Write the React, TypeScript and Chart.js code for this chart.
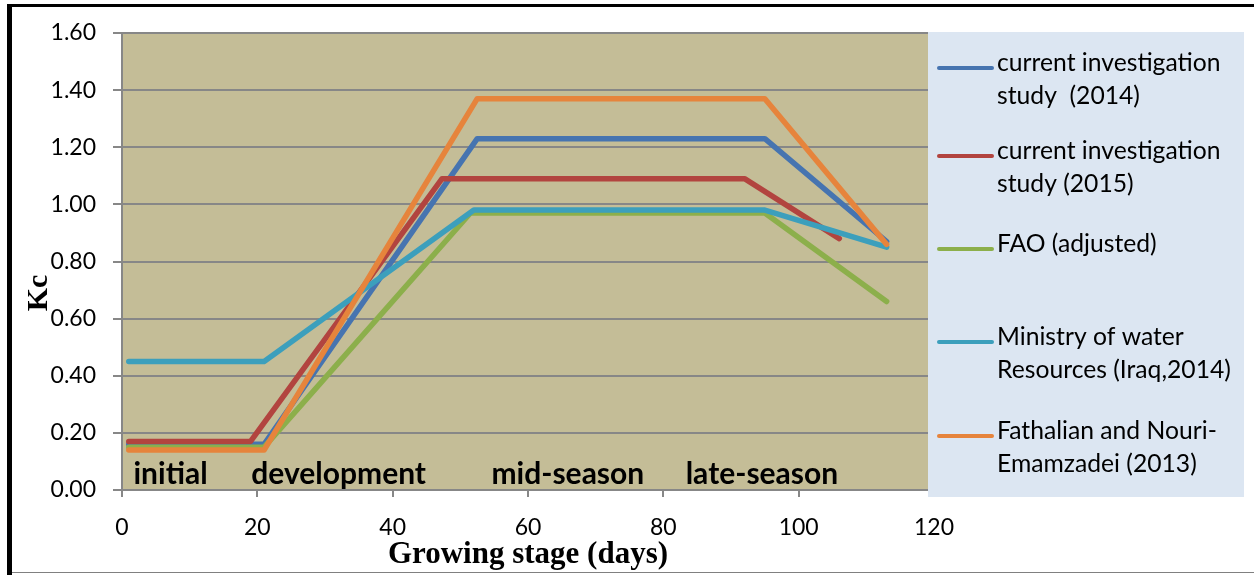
import React, { useEffect, useRef } from "react";
import { Chart, registerables } from "chart.js";
Chart.register(...registerables);

// ---- data ----
const seriesLabels = [
  "current investigation study (2014)",
  "current investigation study (2015)",
  "FAO (adjusted)",
  "Ministry of water Resources (Iraq,2014)",
  "Fathalian and Nouri-Emamzadei (2013)",
];
const legendLines = [
  ["current investigation", "study  (2014)"],
  ["current investigation", "study (2015)"],
  ["FAO (adjusted)"],
  ["Ministry of water", "Resources (Iraq,2014)"],
  ["Fathalian and Nouri-", "Emamzadei (2013)"],
];
const daysStudy2014 = [1, 21, 52.5, 95, 113];
const kcStudy2014 = [0.16, 0.16, 1.23, 1.23, 0.87];
const daysStudy2015 = [1, 19, 47.3, 92, 106];
const kcStudy2015 = [0.17, 0.17, 1.09, 1.09, 0.88];
const daysFAO = [1, 21, 51.5, 95, 113];
const kcFAO = [0.15, 0.15, 0.97, 0.97, 0.66];
const daysMinistry = [1, 21, 52, 95, 113];
const kcMinistry = [0.45, 0.45, 0.98, 0.98, 0.85];
const daysFathalian = [1, 21, 52.5, 95, 113];
const kcFathalian = [0.14, 0.14, 1.37, 1.37, 0.86];

const stageLabels = ["initial", "development", "mid-season", "late-season"];
const stageDays = [1.7, 19.1, 54.6, 83.3];

const xTicks = [0, 20, 40, 60, 80, 100, 120];
const yTicks = [0, 0.2, 0.4, 0.6, 0.8, 1.0, 1.2, 1.4, 1.6];

const colors = ["#4674b0", "#b2443f", "#8caf4b", "#3c9fbc", "#e6843c"];

const xTitle = "Growing stage (days)";
const yTitle = "Kc";

export default function App() {
  const ref = useRef<HTMLCanvasElement | null>(null);

  useEffect(() => {
    document.body.style.margin = "0";
    const canvas = ref.current!;
    const allDays = [daysStudy2014, daysStudy2015, daysFAO, daysMinistry, daysFathalian];
    const allKc = [kcStudy2014, kcStudy2015, kcFAO, kcMinistry, kcFathalian];
    const orders = [5, 4, 3, 2, 1];

    const datasets = seriesLabels.map((label, i) => ({
      label,
      data: allDays[i].map((d, j) => ({ x: d, y: allKc[i][j] })),
      borderColor: colors[i],
      backgroundColor: colors[i],
      borderWidth: 5.5,
      borderJoinStyle: "round" as const,
      borderCapStyle: "round" as const,
      pointRadius: 0,
      tension: 0,
      fill: false,
      order: orders[i],
    }));

    const bgPlugin = {
      id: "bg",
      beforeDraw(chart: any) {
        const { ctx, chartArea } = chart;
        ctx.save();
        ctx.fillStyle = "#ffffff";
        ctx.fillRect(0, 0, chart.width, chart.height);
        ctx.fillStyle = "#c4bd97";
        ctx.fillRect(chartArea.left, chartArea.top, chartArea.right - chartArea.left, chartArea.bottom - chartArea.top);
        ctx.restore();
      },
    };

    const overlayPlugin = {
      id: "overlay",
      afterDraw(chart: any) {
        const { ctx, chartArea } = chart;
        const xs = chart.scales.x;
        ctx.save();
        // stage labels
        ctx.fillStyle = "#000";
        ctx.font = "bold 30px Lato";
        ctx.textBaseline = "alphabetic";
        ctx.textAlign = "left";
        stageLabels.forEach((s, i) => {
          ctx.fillText(s, xs.getPixelForValue(stageDays[i]), chartArea.bottom - 6);
        });
        // legend box
        const lx = 928, ly = 32, lw = 316, lh = 465;
        ctx.fillStyle = "#dce6f2";
        ctx.fillRect(lx, ly, lw, lh);
        const itemY = [68, 156, 249, 342, 436];
        ctx.font = "24.7px Lato";
        ctx.textBaseline = "middle";
        legendLines.forEach((lines, i) => {
          const y = itemY[i];
          ctx.strokeStyle = colors[i];
          ctx.lineWidth = 4;
          ctx.lineCap = "round";
          ctx.beginPath();
          ctx.moveTo(lx + 11, y);
          ctx.lineTo(lx + 64, y);
          ctx.stroke();
          ctx.fillStyle = "#000";
          lines.forEach((t, k) => {
            ctx.fillText(t, lx + 69, y - 5 + k * 33);
          });
        });
        // axis titles
        ctx.font = "bold 31px 'Liberation Serif'";
        ctx.textAlign = "center";
        ctx.textBaseline = "alphabetic";
        ctx.fillText(xTitle, 528, 563);
        ctx.save();
        ctx.translate(47, 293);
        ctx.rotate(-Math.PI / 2);
        ctx.font = "bold 30px 'Liberation Serif'";
        ctx.fillText(yTitle, 0, 0);
        ctx.restore();
        // outer frame
        ctx.fillStyle = "#000";
        ctx.fillRect(7, 4, chart.width - 7, 3);
        ctx.fillRect(7, 4, 5, chart.height - 4);
        ctx.fillStyle = "#808080";
        ctx.fillRect(12, 572, chart.width - 12, 1);
        ctx.restore();
      },
    };

    const chart = new Chart(canvas, {
      type: "line",
      data: { datasets },
      options: {
        animation: false,
        responsive: false,
        maintainAspectRatio: false,
        layout: { padding: { top: 33, right: 320, bottom: 0, left: 0 } },
        plugins: { legend: { display: false }, tooltip: { enabled: false }, title: { display: false } },
        scales: {
          x: {
            type: "linear",
            min: 0,
            max: 120,
            afterFit(scale: any) {
              scale.height = 85;
            },
            afterBuildTicks(scale: any) {
              scale.ticks = xTicks.map((v) => ({ value: v }));
            },
            ticks: {
              font: { family: "Lato", size: 23 },
              color: "#000",
              padding: 17,
              maxRotation: 0,
              callback: (v: any) => String(v),
            },
            grid: { drawOnChartArea: false, drawTicks: true, tickLength: 7, color: "#878787", lineWidth: 2 },
            border: { display: true, color: "#878787", width: 2 },
          },
          y: {
            type: "linear",
            min: 0,
            max: 1.6,
            afterFit(scale: any) {
              scale.width = 122;
            },
            afterBuildTicks(scale: any) {
              scale.ticks = yTicks.map((v) => ({ value: v }));
            },
            ticks: {
              font: { family: "Lato", size: 23 },
              color: "#000",
              padding: 17,
              callback: (v: any) => Number(v).toFixed(2),
            },
            grid: { drawTicks: true, tickLength: 9, color: "#878787", lineWidth: 2 },
            border: { display: true, color: "#878787", width: 2 },
          },
        },
      },
      plugins: [bgPlugin, overlayPlugin],
    } as any);

    return () => chart.destroy();
  }, []);

  return (
    <div style={{ width: 1254, height: 575 }}>
      <canvas ref={ref} width={1254} height={575} style={{ display: "block", width: 1254, height: 575 }} />
    </div>
  );
}
